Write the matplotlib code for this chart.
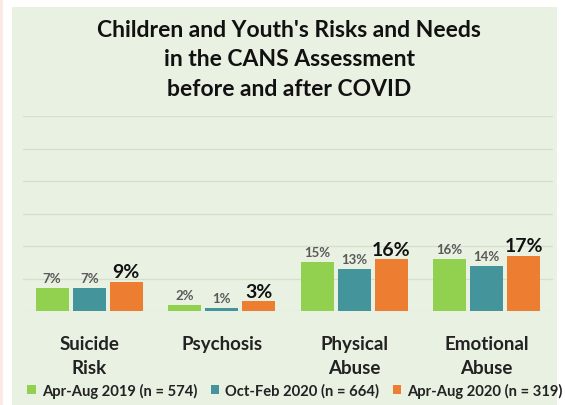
import numpy as np
import matplotlib.pyplot as plt
from matplotlib.patches import Rectangle

categories = ["Suicide\nRisk", "Psychosis", "Physical\nAbuse", "Emotional\nAbuse"]
series_names = ["Apr-Aug 2019 (n = 574)", "Oct-Feb 2020 (n = 664)", "Apr-Aug 2020 (n = 319)"]
apr_aug_2019 = [7, 2, 15, 16]
oct_feb_2020 = [7, 1, 13, 14]
apr_aug_2020 = [9, 3, 16, 17]
colors = ["#92D050", "#43959B", "#ED7D31"]
bg = "#E9F1E2"

plt.rcParams['font.family'] = ['Lato', 'DejaVu Sans']

fig = plt.figure(figsize=(5.65, 4.06), dpi=100)
fig.patch.set_facecolor("white")
# green panel behind the chart
fig.patches.append(Rectangle((12 / 565, 0), 545 / 565, 1 - 8 / 406, transform=fig.transFigure,
                             facecolor=bg, edgecolor="none", zorder=-2))
fig.patches.append(Rectangle((0, 0), 3 / 565, 1, transform=fig.transFigure,
                             facecolor="#FBE9E4", edgecolor="none", zorder=-2))

ax = fig.add_axes([23 / 565, 1 - 312 / 406, 530 / 565, 195 / 406])
ax.set_facecolor("none")

x = np.arange(len(categories))
w = 0.25
off = 0.28
all_series = [apr_aug_2019, oct_feb_2020, apr_aug_2020]
for i, vals in enumerate(all_series):
    xs = x + (i - 1) * off
    ax.bar(xs, vals, width=w, color=colors[i], zorder=3, label=series_names[i])
    for xx, v in zip(xs, vals):
        if i < 2:
            ax.text(xx, v + 1.2, f"{v}%", ha="center", va="bottom", fontsize=9.5,
                    fontweight="bold", color="#595959")
        else:
            ax.text(xx, v + 0.4, f"{v}%", ha="center", va="bottom", fontsize=14,
                    fontweight="bold", color="#111111")

ax.set_xlim(-0.5, len(categories) - 0.5)
ax.set_ylim(0, 60)
ax.set_yticks(np.arange(0, 61, 10))
ax.yaxis.grid(True, color="#D5DFCC", linewidth=0.9, zorder=0)
ax.set_axisbelow(True)
ax.tick_params(axis="y", left=False, labelleft=False)
ax.tick_params(axis="x", bottom=False, pad=14)
ax.set_xticks(x)
ax.set_xticklabels(categories, fontsize=13.5, fontweight="bold", color="#222222",
                   linespacing=1.5, va="top")
for s in ax.spines.values():
    s.set_visible(False)

fig.text(289 / 565, 1 - 60 / 406,
         "Children and Youth's Risks and Needs\nin the CANS Assessment\nbefore and after COVID",
         ha="center", va="center", fontsize=16.5, fontweight="bold", color="#111111",
         linespacing=1.5)

fig.legend(loc="center", bbox_to_anchor=(0.522, 1 - 391 / 406), ncol=3, frameon=False,
           prop={"size": 10.6, "weight": "bold"}, handlelength=0.6, handleheight=0.6,
           handletextpad=0.4, columnspacing=0.9, labelcolor="#222222")

fig.savefig("out.png", dpi=100)
